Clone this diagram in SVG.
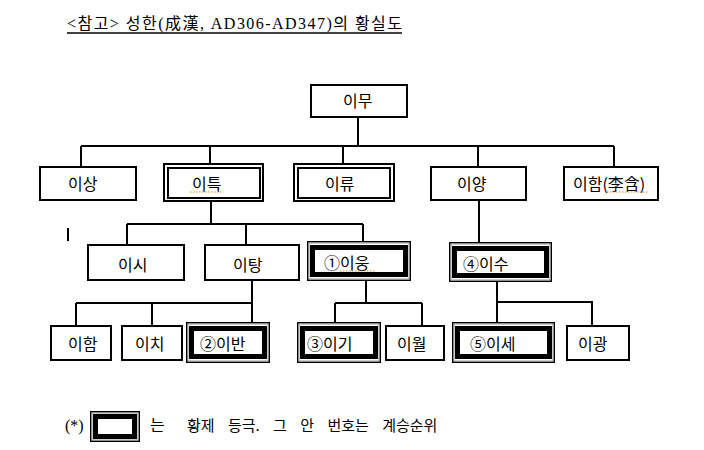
<svg xmlns="http://www.w3.org/2000/svg" width="704" height="450" viewBox="0 0 704 450">
<style>
text{font-family:"Noto Sans CJK KR","Noto Sans",sans-serif;font-size:16px;fill:#000}
.title{font-family:"Liberation Serif","Noto Sans CJK KR",serif;font-size:16px}
.b{fill:#fff;stroke:#000;stroke-width:2}
.o{fill:#fff;stroke:#000;stroke-width:1.5}
.g{fill:none;stroke:#999;stroke-width:1}
.t{fill:none;stroke:#000;stroke-width:5}
.c{fill:none;stroke:#000;stroke-width:2}
.sq{fill:none;stroke:#e08a1e;stroke-width:1;stroke-dasharray:1.5 1.5}
</style>
<rect width="704" height="450" fill="#fff"/>
<g id="title">
<text class="title" x="67" y="29" textLength="335" lengthAdjust="spacing">&lt;참고&gt; 성한(成漢, AD306-AD347)의 황실도</text>
<line x1="67" y1="33" x2="402" y2="33" stroke="#000" stroke-width="1.3"/>
</g>
<g id="connectors">
<path class="c" d="M358 118V146M81 146H614M81 146V167M210 146V163M343 146V163M478 146V166M614 146V167"/>
<path class="c" d="M211 202V224M127 224H363M127 224V244M246 224V244M363 224V241"/>
<path class="c" d="M479 201V242"/>
<path class="c" d="M252 281V303M76 303H252M76 303V325M152 303V325M252 303V322"/>
<path class="c" d="M366 281V303M335 303H422M335 303V322M422 303V325"/>
<path class="c" d="M497 282V302H592V325M497 302V322"/>
</g>
<g id="n-imu"><rect class="b" x="311" y="85" width="96" height="32"/><text x="343" y="107">이무</text></g>
<g id="n-isang"><rect class="b" x="40" y="167" width="96" height="33"/><text x="68" y="190">이상</text></g>
<g id="n-iteuk"><rect class="b" x="164" y="164" width="99" height="37"/><rect class="b" x="168" y="168" width="92" height="30"/><text x="192" y="190">이특</text><path class="sq" d="M190 192H223"/></g>
<g id="n-iryu"><rect class="b" x="294" y="164" width="100" height="37"/><rect class="b" x="298" y="168" width="92" height="30"/><text x="325" y="190">이류</text></g>
<g id="n-iyang"><rect class="b" x="431" y="167" width="95" height="33"/><text x="457" y="190">이양</text></g>
<g id="n-iham1"><rect class="b" x="564" y="167" width="94" height="33"/><text x="573" y="190">이함(李含)</text><path class="sq" d="M607 192H648"/></g>
<rect x="67" y="228" width="2" height="13" fill="#000"/>
<g id="n-isi"><rect class="b" x="88" y="245" width="96" height="35"/><text x="118" y="271">이시</text></g>
<g id="n-itang"><rect class="b" x="205" y="245" width="94" height="35"/><text x="233" y="271">이탕</text></g>
<g id="n-iung"><rect class="o" x="307.75" y="241.75" width="102.5" height="38.5"/><rect class="g" x="309" y="243" width="100" height="36"/><rect class="t" x="312.5" y="247.5" width="93" height="27"/><text x="324" y="269">①이웅</text><path class="sq" d="M340 271H375"/></g>
<g id="n-isu"><rect class="o" x="449.75" y="242.75" width="101.5" height="38.5"/><rect class="g" x="451" y="244" width="99" height="36"/><rect class="t" x="454.5" y="248.5" width="92" height="27"/><text x="463" y="270">④이수</text></g>
<g id="n-iham2"><rect class="b" x="51" y="326" width="60" height="34"/><text x="68" y="350">이함</text></g>
<g id="n-ichi"><rect class="b" x="122" y="326" width="60" height="34"/><text x="135" y="350">이치</text></g>
<g id="n-iban"><rect class="o" x="186.75" y="322.75" width="82.5" height="39.5"/><rect class="g" x="188" y="324" width="80" height="37"/><rect class="t" x="191.5" y="328.5" width="73" height="28"/><text x="200" y="350">②이반</text></g>
<g id="n-igi"><rect class="o" x="297.75" y="322.75" width="82.5" height="39.5"/><rect class="g" x="299" y="324" width="80" height="37"/><rect class="t" x="302.5" y="328.5" width="73" height="28"/><text x="307" y="350">③이기</text></g>
<g id="n-iwol"><rect class="b" x="386" y="326" width="58" height="34"/><text x="397" y="350">이월</text></g>
<g id="n-ise"><rect class="o" x="452.75" y="322.75" width="101.5" height="39.5"/><rect class="g" x="454" y="324" width="99" height="37"/><rect class="t" x="457.5" y="328.5" width="92" height="28"/><text x="470" y="350">⑤이세</text></g>
<g id="n-igwang"><rect class="b" x="567" y="326" width="62" height="34"/><text x="578" y="350">이광</text></g>
<g id="legend">
<text x="65" y="431" style="font-family:'Liberation Serif','Noto Sans CJK KR',serif">(*)</text>
<rect class="o" x="90.75" y="411.75" width="48.5" height="29.5"/><rect class="g" x="92" y="413" width="46" height="27"/><rect class="t" x="95.5" y="416.5" width="39" height="20"/>
<text x="150" y="431">는</text>
<text x="187" y="431" style="font-size:15px;word-spacing:10px">황제 등극. 그 안 번호는 계승순위</text>
</g>
</svg>
